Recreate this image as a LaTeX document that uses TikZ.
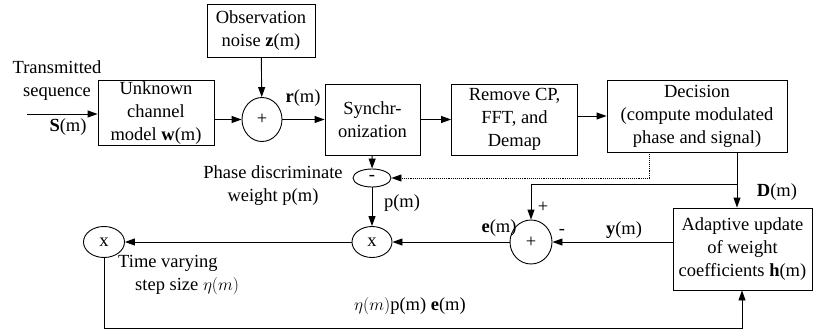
\documentclass[tikz,border=0pt]{standalone}
\usepackage{fontspec}
\setmainfont{Liberation Serif}
\usepackage{amsmath}
\usetikzlibrary{arrows.meta,shapes.geometric}
\tikzset{
  blk/.style={draw, line width=0.9pt, align=center, inner sep=1pt},
  junc/.style={draw, ellipse, line width=0.9pt, inner sep=0pt},
  arr/.style={-{Triangle[length=10pt,width=7pt]}, line width=0.9pt},
  lbl/.style={align=center, inner sep=0pt},
}
\begin{document}
\begin{tikzpicture}[x=1pt,y=-1pt,font=\fontsize{18.5}{23}\selectfont]
\useasboundingbox (0,0) rectangle (814,334);
% blocks
\node[blk, minimum width=108pt, minimum height=53pt] (noise) at (261,30.5) {Observation\\noise \textbf{z}(m)};
\node[blk, minimum width=116pt, minimum height=58pt] (chan) at (156,113) {Unknown\\channel\\model \textbf{w}(m)};
\node[blk, minimum width=95pt, minimum height=71pt] (sync) at (372.5,119.5) {Synchr-\\onization};
\node[blk, minimum width=126pt, minimum height=71pt] (remcp) at (514.5,119.5) {Remove CP,\\FFT, and\\Demap};
\node[blk, minimum width=180pt, minimum height=72pt] (dec) at (697,116) {Decision\\(compute modulated\\phase and signal)};
\node[blk, minimum width=139pt, minimum height=82pt] (adapt) at (742.5,249) {Adaptive update\\of weight\\coefficients \textbf{h}(m)};
% junctions
\node[junc, minimum width=40pt, minimum height=44pt] (sum1) at (262,119.5) {+};
\node[junc, minimum width=38pt, minimum height=18pt] (minus) at (372,178) {-};
\node[junc, minimum width=40pt, minimum height=31pt] (mul1) at (372,242) {x};
\node[junc, minimum width=41pt, minimum height=31pt] (mul2) at (104,242) {x};
\node[junc, minimum width=42pt, minimum height=44pt] (sum2) at (531,242) {+};
% taps
\coordinate (tin) at (27,114);
\coordinate (dtap) at (737,184);
\coordinate (dotx) at (649,177);
\coordinate (bot) at (742,328);
% labels
\node[lbl] (ltx) at (57,81) {Transmitted\\sequence};
\node[lbl] (ls) at (68,127) {\textbf{S}(m)};
\node[lbl] (lr) at (303,98) {\textbf{r}(m)};
\node[lbl] (lphase) at (273,186) {Phase discriminate\\weight p(m)};
\node[lbl] (lp) at (402,203) {p(m)};
\node[lbl] (le) at (499,228) {\textbf{e}(m)};
\node[lbl] (lplus) at (543,207) {+};
\node[lbl] (lminus) at (562,232) {-};
\node[lbl] (ly) at (624,230) {\textbf{y}(m)};
\node[lbl] (ld) at (777,192) {\textbf{D}(m)};
\node[lbl, align=left, anchor=north west] (lstep) at (118,255) {Time varying\\\hspace{17pt}step size $\eta(m)$};
\node[lbl] (lupd) at (410,306) {$\eta(m)$p(m) \textbf{e}(m)};
% connectors
\draw[arr] (tin) -- (chan.west |- tin);
\draw[arr] (chan.east |- sum1) -- (sum1.west);
\draw[arr] (noise) -- (sum1);
\draw[arr] (sum1) -- (sync);
\draw[arr] (sync) -- (remcp);
\draw[arr] (remcp.east |- dec) -- (dec.west);
\draw[arr] (sync) -- (minus);
\draw[arr, densely dotted] (dec.south -| dotx) |- (minus.east);
\draw[arr] (minus) -- (mul1);
\draw[line width=0.9pt] (dec.south -| dtap) -- (dtap);
\draw[arr] (dtap) -- (adapt.north -| dtap);
\draw[arr] (dtap) -| (sum2.north);
\draw[arr] (adapt.west |- sum2) -- (sum2.east);
\draw[arr] (sum2) -- (mul1);
\draw[arr] (mul1) -- (mul2);
\draw[arr] (mul2.south) |- (bot) -- (adapt.south -| bot);
\end{tikzpicture}
\end{document}
